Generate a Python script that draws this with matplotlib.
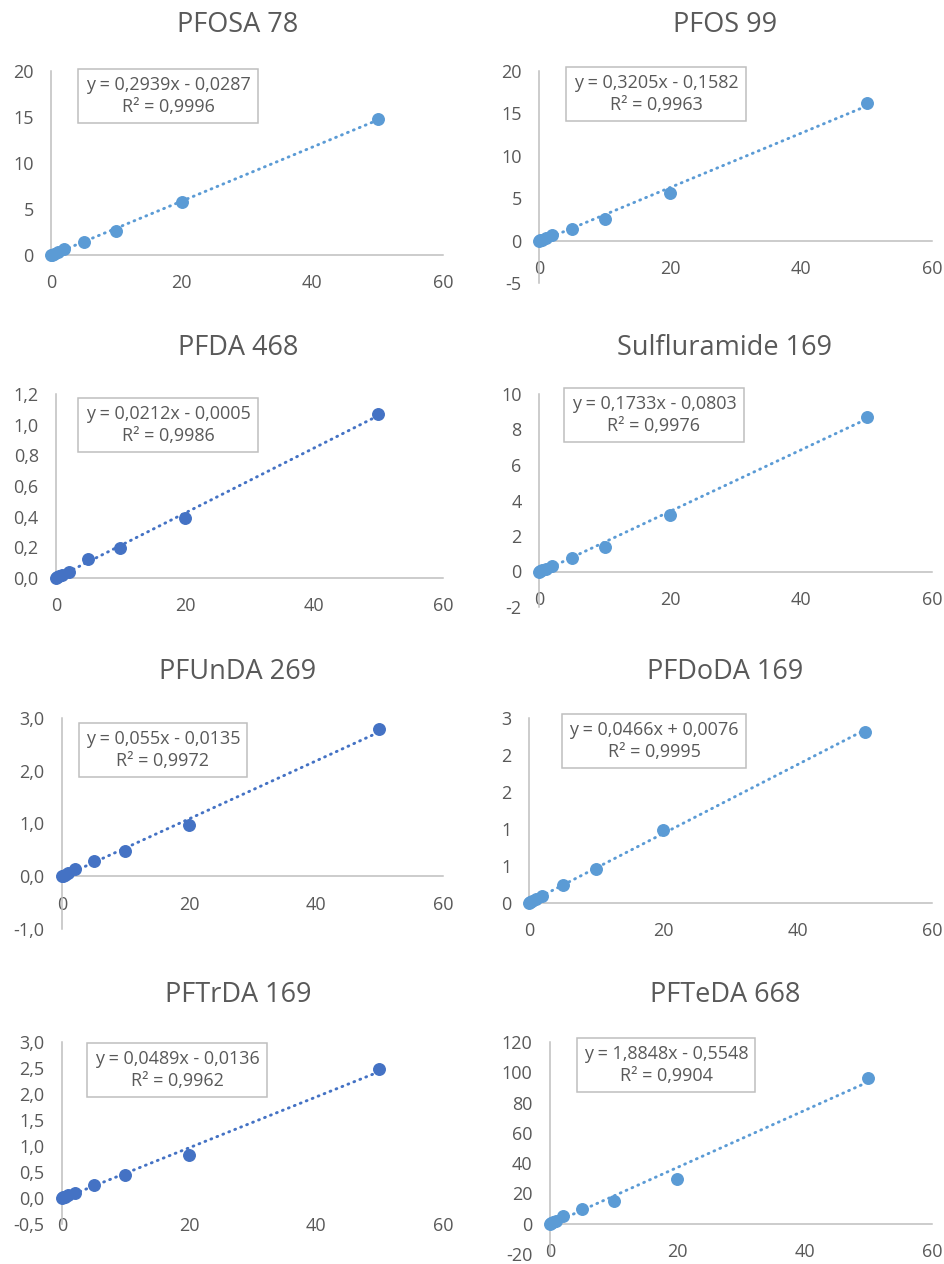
import numpy as np
import matplotlib.pyplot as plt

plt.rcParams['font.family'] = ['Open Sans', 'DejaVu Sans']

# concentrations (x) shared by all the calibration curves
conc = [0, 0.2, 0.5, 1, 2, 5, 10, 20, 50]

titles = ["PFOSA 78", "PFOS 99", "PFDA 468", "Sulfluramide 169",
          "PFUnDA 269", "PFDoDA 169", "PFTrDA 169", "PFTeDA 668"]

pfosa = [0.0, 0.05, 0.13, 0.28, 0.62, 1.45, 2.64, 5.73, 14.75]
pfos = [0.0, 0.04, 0.12, 0.30, 0.67, 1.34, 2.49, 5.60, 16.17]
pfda = [0.0, 0.004, 0.01, 0.02, 0.038, 0.122, 0.198, 0.39, 1.068]
sulfluramide = [0.0, 0.02, 0.06, 0.14, 0.30, 0.77, 1.37, 3.16, 8.68]
pfunda = [0.0, 0.01, 0.03, 0.06, 0.13, 0.29, 0.48, 0.98, 2.79]
pfdoda = [0.0, 0.01, 0.03, 0.05, 0.10, 0.24, 0.46, 0.98, 2.315]
pftrda = [0.0, 0.01, 0.02, 0.05, 0.10, 0.25, 0.44, 0.83, 2.48]
pfteda = [0.0, 0.3, 0.9, 2.0, 5.0, 9.9, 14.9, 29.7, 96.5]

slopes = [0.2939, 0.3205, 0.0212, 0.1733, 0.055, 0.0466, 0.0489, 1.8848]
intercepts = [-0.0287, -0.1582, -0.0005, -0.0803, -0.0135, 0.0076, -0.0136, -0.5548]
r2 = ["0,9996", "0,9963", "0,9986", "0,9976", "0,9972", "0,9995", "0,9962", "0,9904"]
equations = ["y = 0,2939x - 0,0287", "y = 0,3205x - 0,1582", "y = 0,0212x - 0,0005",
             "y = 0,1733x - 0,0803", "y = 0,055x - 0,0135", "y = 0,0466x + 0,0076",
             "y = 0,0489x - 0,0136", "y = 1,8848x - 0,5548"]

xticks = [0, 20, 40, 60]
xticklabels = ["0", "20", "40", "60"]

yticks = [
    [0, 5, 10, 15, 20],
    [-5, 0, 5, 10, 15, 20],
    [0, 0.2, 0.4, 0.6, 0.8, 1.0, 1.2],
    [-2, 0, 2, 4, 6, 8, 10],
    [-1, 0, 1, 2, 3],
    [0, 0.5, 1.0, 1.5, 2.0, 2.5],
    [-0.5, 0, 0.5, 1.0, 1.5, 2.0, 2.5, 3.0],
    [-20, 0, 20, 40, 60, 80, 100, 120],
]
yticklabels = [
    ["0", "5", "10", "15", "20"],
    ["-5", "0", "5", "10", "15", "20"],
    ["0,0", "0,2", "0,4", "0,6", "0,8", "1,0", "1,2"],
    ["-2", "0", "2", "4", "6", "8", "10"],
    ["-1,0", "0,0", "1,0", "2,0", "3,0"],
    ["0", "1", "1", "2", "2", "3"],
    ["-0,5", "0,0", "0,5", "1,0", "1,5", "2,0", "2,5", "3,0"],
    ["-20", "0", "20", "40", "60", "80", "100", "120"],
]

series = [pfosa, pfos, pfda, sulfluramide, pfunda, pfdoda, pftrda, pfteda]

light = "#5B9BD5"
dark = "#4472C4"
colors = [light, light, dark, light, dark, light, dark, light]

W, H = 945, 1264
fig = plt.figure(figsize=(W / 100, H / 100), dpi=100)

# axes boxes in pixels: left, top, right, bottom
boxes = [
    (51, 71, 443, 255),
    (539, 71, 932, 283),
    (56, 394, 443, 578),
    (539, 394, 932, 607),
    (62, 718, 443, 929),
    (529, 718, 932, 903),
    (62, 1042, 443, 1224),
    (550, 1042, 932, 1254),
]
title_pos = [(238, 25), (725, 25), (238, 348), (725, 348),
             (238, 672), (725, 672), (238, 995), (725, 995)]
eq_pos = [(168, 96), (656, 94), (168, 425), (654, 415),
          (163, 750), (654, 741), (177, 1070), (666, 1065)]

grey = "#595959"
axis_grey = "#BFBFBF"

for i in range(8):
    l, t, r, b = boxes[i]
    ax = fig.add_axes([l / W, 1 - b / H, (r - l) / W, (b - t) / H])
    ax.set_xlim(0, 60)
    ax.set_ylim(yticks[i][0], yticks[i][-1])

    ax.plot(conc, series[i], 'o', color=colors[i], ms=8.3, clip_on=False, zorder=3)
    xx = np.array([0, 50])
    ax.plot(xx, slopes[i] * xx + intercepts[i], color=colors[i], lw=2.1,
            linestyle=(0, (0.3, 1.9)), dash_capstyle='round', clip_on=False, zorder=4)

    for s in ['top', 'right']:
        ax.spines[s].set_visible(False)
    ax.spines['left'].set_color(axis_grey)
    ax.spines['left'].set_linewidth(1.1)
    ax.spines['bottom'].set_position(('data', 0))
    ax.spines['bottom'].set_color(axis_grey)
    ax.spines['bottom'].set_linewidth(1.1)
    if i == 6:
        ax.spines['bottom'].set_color('none')

    ax.set_xticks(xticks)
    ax.set_xticklabels(xticklabels)
    ax.set_yticks(yticks[i])
    ax.set_yticklabels(yticklabels[i])
    ax.tick_params(axis='both', length=0, labelsize=13, labelcolor=grey)
    ax.tick_params(axis='x', pad=14)
    ax.tick_params(axis='y', pad=12.5)
    ax.patch.set_alpha(0)

    tx, ty = title_pos[i]
    fig.text(tx / W, 1 - ty / H, titles[i], ha='center', va='center',
             fontsize=19.5, color=grey)
    ex, ey = eq_pos[i]
    fig.text(ex / W, 1 - ey / H, equations[i] + "\nR² = " + r2[i],
             ha='center', va='center', multialignment='center',
             fontsize=13, color=grey, linespacing=1.3,
             bbox=dict(boxstyle='square,pad=0.4', fc='white', ec=axis_grey, lw=1.1))

fig.savefig("out.png", dpi=100)
